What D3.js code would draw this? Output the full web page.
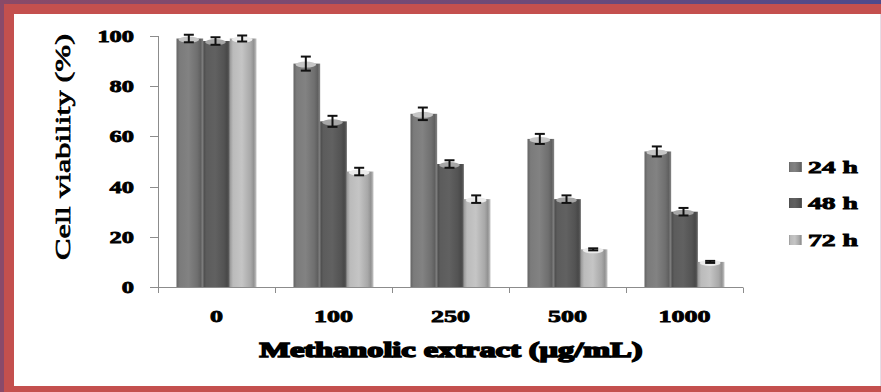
<!DOCTYPE html>
<html>
<head>
<meta charset="utf-8">
<script src="https://cdn.jsdelivr.net/npm/d3@7/dist/d3.min.js"></script>
<style>
  html, body { margin: 0; padding: 0; background: #fff; }
  svg { display: block; }
  text { font-family: "Liberation Serif", "Times New Roman", serif; font-weight: bold; fill: #000; }
</style>
</head>
<body>
<svg id="chart" width="881" height="392"></svg>
<script>
// Concentrations of the methanolic extract (µg/mL)
const categories = ["0", "100", "250", "500", "1000"];
// Exposure times
const seriesNames = ["24 h", "48 h", "72 h"];
// Mean cell viability (%) per exposure time
const values24 = [99, 89, 69, 59, 54];
const values48 = [98, 66, 49, 35, 30];
const values72 = [99, 46, 35, 15, 10];
// Standard deviations
const errors24 = [1.5, 2.8, 2.5, 2, 2];
const errors48 = [1.5, 2.2, 1.5, 1.5, 1.5];
const errors72 = [1.2, 1.5, 1.5, 0.4, 0.4];
// Axis ticks
const yTicks = [0, 20, 40, 60, 80, 100];

const seriesValues = [values24, values48, values72];
const seriesErrors = [errors24, errors48, errors72];

const svg = d3.select("#chart");
const W = 881, H = 392;

// ---- frame ----
const defs = svg.append("defs");
const topGrad = defs.append("linearGradient").attr("id", "topGrad")
  .attr("x1", "0").attr("x2", "1").attr("y1", "0").attr("y2", "0");
topGrad.append("stop").attr("offset", "0%").attr("stop-color", "#8a4a68");
topGrad.append("stop").attr("offset", "60%").attr("stop-color", "#6e4a78");
topGrad.append("stop").attr("offset", "100%").attr("stop-color", "#4e4a8c");

svg.append("rect").attr("x", 0).attr("y", 0).attr("width", W).attr("height", H).attr("fill", "#c4504e");
svg.append("rect").attr("x", 0).attr("y", 0).attr("width", 4).attr("height", H).attr("fill", "#8a4a6a");
svg.append("rect").attr("x", 0).attr("y", 0).attr("width", W).attr("height", 4).attr("fill", "url(#topGrad)");
svg.append("rect").attr("x", 14).attr("y", 14).attr("width", W - 14).attr("height", 372).attr("fill", "#fff");
svg.append("line").attr("x1", 880.5).attr("x2", 880.5).attr("y1", 14).attr("y2", 386)
  .attr("stroke", "#e4dde6").attr("stroke-width", 1);

// ---- scales ----
const x0 = d3.scaleBand().domain(categories).range([158, 743])
  .paddingInner(0.316).paddingOuter(0.158);
const x1 = d3.scaleBand().domain(seriesNames).range([0, x0.bandwidth()]);
const y = d3.scaleLinear().domain([0, 100]).range([287, 36]);

// ---- bar shading (cylinder look) ----
const baseColors = ["#777777", "#595959", "#b4b4b4"];
const capColors = ["#c6c6c6", "#a6a6a6", "#ececec"];
seriesNames.forEach((s, i) => {
  const c = d3.color(baseColors[i]);
  const g = defs.append("linearGradient").attr("id", "barGrad" + i)
    .attr("x1", "0").attr("x2", "1").attr("y1", "0").attr("y2", "0");
  g.append("stop").attr("offset", "0%").attr("stop-color", c.darker(0.5));
  g.append("stop").attr("offset", "12%").attr("stop-color", c.brighter(0.1));
  g.append("stop").attr("offset", "45%").attr("stop-color", c.brighter(0.25));
  g.append("stop").attr("offset", "78%").attr("stop-color", c.darker(0.2));
  g.append("stop").attr("offset", "90%").attr("stop-color", c.darker(0.6));
  g.append("stop").attr("offset", "100%").attr("stop-color", c.brighter(0.3));
});

// ---- axes ----
const axisColor = "#8c8c8c";
const yAxis = svg.append("g");
yAxis.append("line").attr("x1", 158.5).attr("x2", 158.5).attr("y1", y(100)).attr("y2", y(0))
  .attr("stroke", axisColor);
yAxis.selectAll(".yt").data(yTicks).enter().append("line")
  .attr("x1", 150).attr("x2", 158.5)
  .attr("y1", d => Math.round(y(d)) + 0.5).attr("y2", d => Math.round(y(d)) + 0.5)
  .attr("stroke", axisColor);
yAxis.selectAll(".yl").data(yTicks).enter().append("text")
  .attr("x", 134).attr("y", d => y(d) + 6)
  .attr("text-anchor", "end")
  .attr("font-size", 17)
  .attr("textLength", d => String(d).length * 12.2)
  .attr("lengthAdjust", "spacingAndGlyphs")
  .attr("stroke", "#000").attr("stroke-width", 0.8)
  .text(d => d);

const step = x0.step();
const boundaries = categories.map(c => x0(c) - x0.paddingInner() * step / 2)
  .concat([743]);
const xAxis = svg.append("g");
xAxis.append("line").attr("x1", 158).attr("x2", 743).attr("y1", 287.5).attr("y2", 287.5)
  .attr("stroke", axisColor);
xAxis.selectAll(".xt").data(boundaries).enter().append("line")
  .attr("x1", d => Math.round(d) + 0.5).attr("x2", d => Math.round(d) + 0.5)
  .attr("y1", 287.5).attr("y2", 293)
  .attr("stroke", axisColor);
xAxis.selectAll(".xl").data(categories).enter().append("text")
  .attr("x", d => x0(d) + x0.bandwidth() / 2)
  .attr("y", 322)
  .attr("text-anchor", "middle")
  .attr("font-size", 17)
  .attr("textLength", d => d.length * 13)
  .attr("lengthAdjust", "spacingAndGlyphs")
  .attr("stroke", "#000").attr("stroke-width", 0.8)
  .text(d => d);

// ---- bars ----
const groups = svg.selectAll(".grp").data(categories).enter().append("g")
  .attr("transform", d => `translate(${x0(d)},0)`);

seriesNames.forEach((s, i) => {
  const bw = x1.bandwidth();
  groups.append("rect")
    .attr("x", x1(s)).attr("width", bw)
    .attr("y", (d, j) => y(seriesValues[i][j]))
    .attr("height", (d, j) => y(0) - y(seriesValues[i][j]))
    .attr("fill", `url(#barGrad${i})`);
  groups.append("ellipse")
    .attr("cx", x1(s) + bw / 2 - 1)
    .attr("cy", (d, j) => y(seriesValues[i][j]) + 1)
    .attr("rx", bw / 2 - 3).attr("ry", 3)
    .attr("fill", capColors[i]);
});

// ---- error bars ----
seriesNames.forEach((s, i) => {
  const cx = x1(s) + x1.bandwidth() / 2 - 1;
  const eb = groups.append("g").attr("stroke", "#111").attr("stroke-width", 2);
  eb.append("line")
    .attr("x1", cx).attr("x2", cx)
    .attr("y1", (d, j) => y(seriesValues[i][j] + seriesErrors[i][j]))
    .attr("y2", (d, j) => y(seriesValues[i][j] - seriesErrors[i][j]));
  eb.append("line")
    .attr("x1", cx - 5).attr("x2", cx + 5)
    .attr("y1", (d, j) => y(seriesValues[i][j] + seriesErrors[i][j]))
    .attr("y2", (d, j) => y(seriesValues[i][j] + seriesErrors[i][j]));
  eb.append("line")
    .attr("x1", cx - 5).attr("x2", cx + 5)
    .attr("y1", (d, j) => y(seriesValues[i][j] - seriesErrors[i][j]))
    .attr("y2", (d, j) => y(seriesValues[i][j] - seriesErrors[i][j]));
});

// ---- axis titles ----
svg.append("text")
  .attr("x", 451).attr("y", 357)
  .attr("text-anchor", "middle")
  .attr("font-size", 22)
  .attr("textLength", 383)
  .attr("lengthAdjust", "spacingAndGlyphs")
  .attr("stroke", "#000").attr("stroke-width", 1.6)
  .text("Methanolic extract (µg/mL)");

svg.append("text")
  .attr("transform", "translate(70,147) rotate(-90)")
  .attr("text-anchor", "middle")
  .attr("font-size", 21)
  .attr("font-weight", "normal")
  .style("font-weight", "normal")
  .attr("textLength", 226)
  .attr("lengthAdjust", "spacingAndGlyphs")
  .attr("stroke", "#000").attr("stroke-width", 0.7)
  .text("Cell viability (%)");

// ---- legend ----
const legendY = [167, 203, 240];
const legend = svg.selectAll(".lg").data(seriesNames).enter().append("g")
  .attr("transform", (d, i) => `translate(789,${legendY[i]})`);
legend.append("rect")
  .attr("x", 0).attr("y", -5).attr("width", 13).attr("height", 10)
  .attr("fill", (d, i) => `url(#barGrad${i})`);
legend.append("text")
  .attr("x", 19).attr("y", 6)
  .attr("font-size", 17)
  .attr("textLength", 50)
  .attr("lengthAdjust", "spacingAndGlyphs")
  .attr("stroke", "#000").attr("stroke-width", 0.8)
  .text(d => d);
</script>
</body>
</html>
